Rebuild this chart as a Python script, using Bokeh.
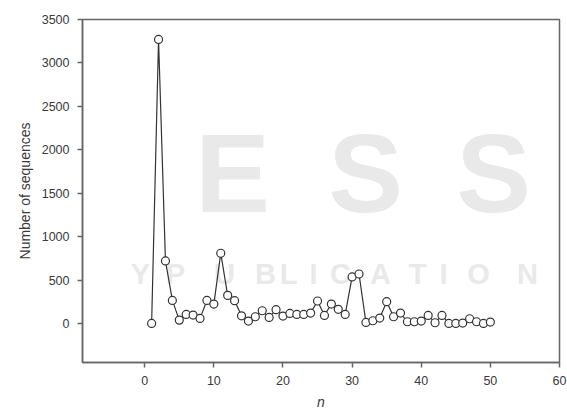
from bokeh.plotting import figure
from bokeh.models import Label, ColumnDataSource, FixedTicker
from bokeh.embed import file_html
from bokeh.resources import INLINE

# ---- data ----
n_values = list(range(1, 51))
sequences = [0, 3270, 720, 265, 38, 104, 96, 58, 265, 223,
             808, 323, 262, 88, 27, 77, 146, 69, 158, 85,
             115, 104, 104, 119, 258, 92, 223, 162, 104, 535,
             569, 12, 31, 62, 250, 77, 119, 19, 19, 27,
             92, 8, 92, 0, 0, 4, 54, 19, 0, 15]
x_ticks = [0, 10, 20, 30, 40, 50, 60]
y_ticks = [0, 500, 1000, 1500, 2000, 2500, 3000, 3500]
x_label = "n"
y_label = "Number of sequences"

XMIN, XMAX = -9, 60
YMIN, YMAX = -450, 3500

# frame geometry in page pixels
FL, FR, FT, FB = 82, 559, 19, 362
W, H = 567, 414


def px2x(px):
    return XMIN + (px - FL) / (FR - FL) * (XMAX - XMIN)


def py2y(py):
    return YMAX - (py - FT) / (FB - FT) * (YMAX - YMIN)


p = figure(width=W, height=H, x_range=(XMIN, XMAX), y_range=(YMIN, YMAX),
           output_backend="svg", toolbar_location=None,
           min_border_left=FL, min_border_right=W - FR,
           min_border_top=FT, min_border_bottom=H - FB)
p.background_fill_color = "white"
p.border_fill_color = "white"
p.grid.visible = False
p.outline_line_color = "#666666"
p.outline_line_width = 1.5

for ax in (p.xaxis[0], p.yaxis[0]):
    ax.axis_line_color = "#666666"
    ax.axis_line_width = 1.5
    ax.major_tick_line_color = "#666666"
    ax.major_tick_line_width = 1.5
    ax.major_tick_out = 5
    ax.major_tick_in = 0
    ax.minor_tick_line_color = None
    ax.major_label_text_font = "Liberation Sans"
    ax.major_label_text_font_size = "12.5px"
    ax.major_label_text_color = "#3a3a3a"
    ax.major_label_standoff = 8
    ax.axis_label_text_font = "Liberation Sans"
    ax.axis_label_text_font_size = "14px"
    ax.axis_label_text_color = "#3a3a3a"
p.xaxis.ticker = FixedTicker(ticks=x_ticks)
p.yaxis.ticker = FixedTicker(ticks=y_ticks)
p.xaxis.axis_label = x_label
p.xaxis.axis_label_text_font_style = "italic"
p.xaxis.axis_label_standoff = 6
p.yaxis.axis_label = y_label
p.yaxis.axis_label_text_font_style = "normal"
p.yaxis.axis_label_standoff = 6

# ---- watermark (faint background text, inside the frame) ----
wm_color = "#e9e9e9"
for ch, cx in zip("ESS", [232, 365, 493]):
    p.add_layout(Label(x=px2x(cx), y=py2y(173), text=ch, text_align="center",
                       text_baseline="middle", text_font="Liberation Sans",
                       text_font_style="bold", text_font_size="112px",
                       text_color=wm_color, level="underlay"))
for ch, cx in zip("YPUBLICATION", [140, 175, 224, 265, 288, 313, 340,
                                   380, 417, 443, 478, 527]):
    p.add_layout(Label(x=px2x(cx), y=py2y(273), text=ch, text_align="center",
                       text_baseline="middle", text_font="Liberation Sans",
                       text_font_style="bold", text_font_size="29px",
                       text_color=wm_color, level="underlay"))

# ---- data marks ----
src = ColumnDataSource(dict(n=n_values, v=sequences))
p.line("n", "v", source=src, line_color="#333333", line_width=1.2)
p.scatter("n", "v", source=src, size=8, marker="circle", fill_color="white",
          line_color="#333333", line_width=1.2)

open("out.html", "w").write(file_html(p, INLINE))
